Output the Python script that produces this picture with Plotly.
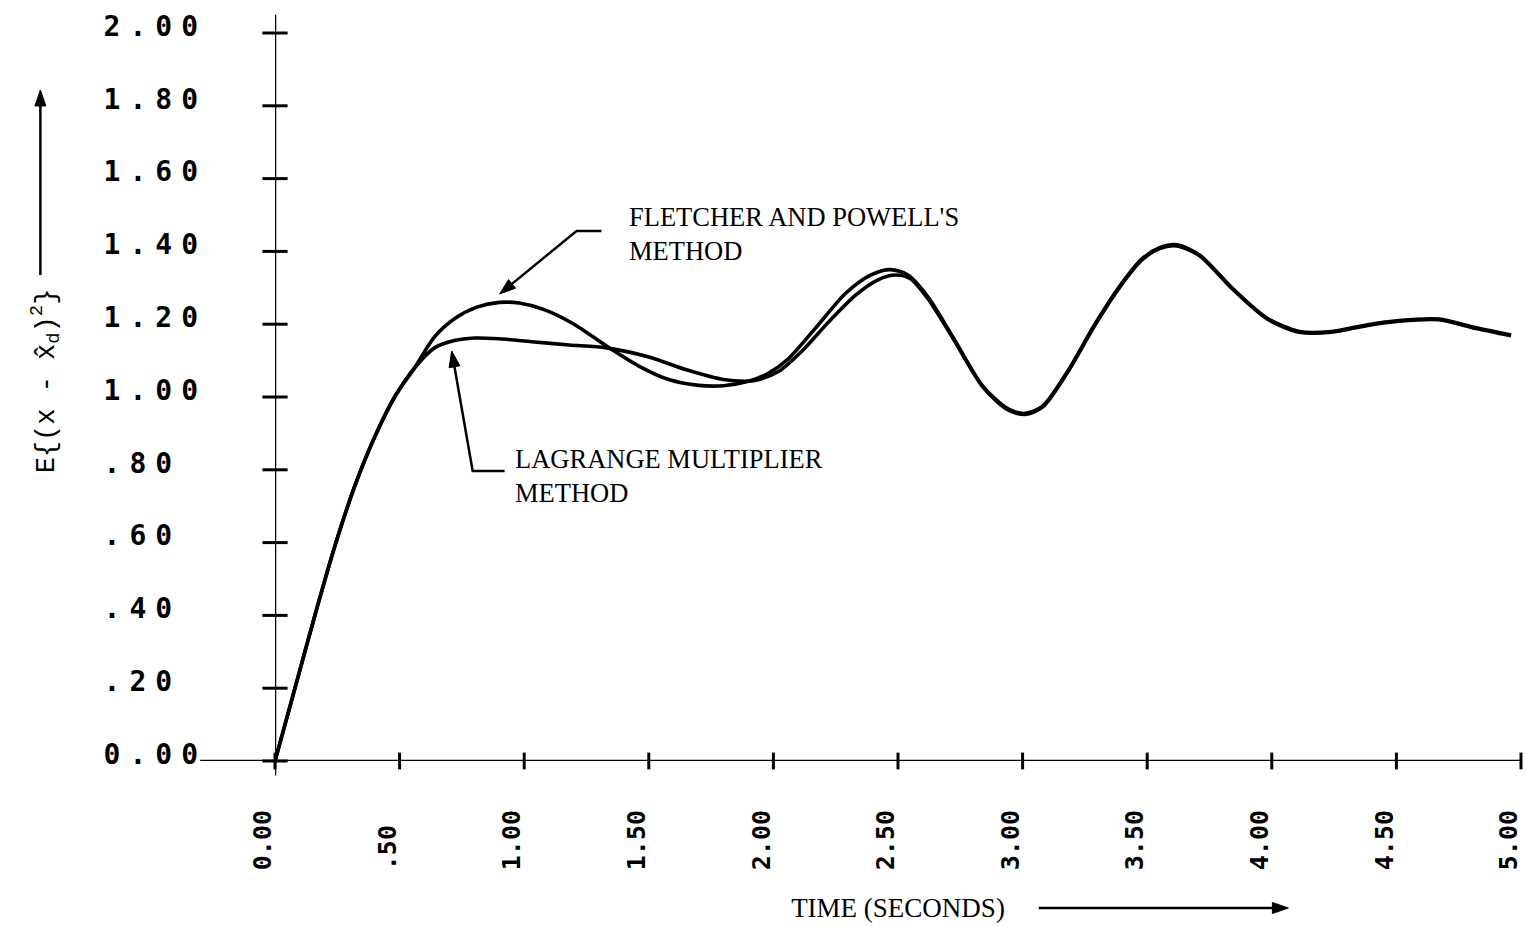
import math
import plotly.graph_objects as go

# ---- data ----
fp_t = [0.00, 0.08, 0.16, 0.24, 0.32, 0.40, 0.48, 0.56, 0.64, 0.72, 0.81, 0.90, 0.98, 1.08, 1.20, 1.33,
        1.46, 1.58, 1.70, 1.80, 1.90, 1.98, 2.06, 2.17, 2.29, 2.39, 2.47, 2.54, 2.62, 2.72, 2.84, 2.94,
        3.01, 3.08, 3.18, 3.29, 3.39, 3.48, 3.55, 3.62, 3.71, 3.84, 3.98, 4.11, 4.24, 4.38, 4.51, 4.67,
        4.82, 4.96]
fp_y = [0.00, 0.20, 0.40, 0.59, 0.755, 0.89, 1.00, 1.08, 1.165, 1.215, 1.247, 1.26, 1.258, 1.24, 1.20, 1.14,
        1.085, 1.048, 1.032, 1.031, 1.043, 1.065, 1.105, 1.19, 1.285, 1.335, 1.350, 1.335, 1.275, 1.165, 1.03, 0.968,
        0.955, 0.975, 1.07, 1.20, 1.305, 1.38, 1.41, 1.418, 1.39, 1.30, 1.217, 1.18, 1.18, 1.198, 1.21, 1.214,
        1.19, 1.17]

lm_t = [0.00, 0.08, 0.16, 0.24, 0.32, 0.40, 0.48, 0.56, 0.64, 0.72, 0.80, 0.90, 1.03, 1.18, 1.33, 1.50,
        1.65, 1.80, 1.92, 2.02, 2.12, 2.22, 2.33, 2.42, 2.49, 2.55, 2.62, 2.72, 2.84, 2.94,
        3.01, 3.08, 3.18, 3.29, 3.39, 3.48, 3.55, 3.62, 3.71, 3.84, 3.98, 4.11, 4.24, 4.38, 4.51, 4.67,
        4.82, 4.96]
lm_y = [0.00, 0.20, 0.40, 0.59, 0.755, 0.89, 1.00, 1.08, 1.135, 1.155, 1.162, 1.16, 1.152, 1.143, 1.135, 1.11,
        1.075, 1.048, 1.045, 1.07, 1.13, 1.205, 1.28, 1.322, 1.335, 1.325, 1.27, 1.162, 1.028, 0.965,
        0.952, 0.972, 1.067, 1.197, 1.302, 1.377, 1.408, 1.415, 1.388, 1.298, 1.215, 1.178, 1.178, 1.196, 1.208, 1.212,
        1.188, 1.168]

x_tick_vals = [0.0, 0.5, 1.0, 1.5, 2.0, 2.5, 3.0, 3.5, 4.0, 4.5, 5.0]
x_tick_text = ["0.00", ".50", "1.00", "1.50", "2.00", "2.50", "3.00", "3.50", "4.00", "4.50", "5.00"]
y_tick_vals = [0.0, 0.2, 0.4, 0.6, 0.8, 1.0, 1.2, 1.4, 1.6, 1.8, 2.0]
y_tick_text = ["0.00", ".20", ".40", ".60", ".80", "1.00", "1.20", "1.40", "1.60", "1.80", "2.00"]

fp_label = "FLETCHER AND POWELL'S<br>METHOD"
lm_label = "LAGRANGE MULTIPLIER<br>METHOD"
x_title = "TIME (SECONDS)"
y_title = "E{(x - x\u0302<sub>d</sub>)<sup>2</sup>}"

TYPE = "Liberation Serif"
TICKF = "DejaVu Sans Mono"


def spaced(s, gap, cell, n=4):
    """Monospace label with letter gap; short labels keep a left-aligned look by widening the last gap."""
    extra = gap + cell * (n - len(s))
    if gap == 0 and extra == 0:
        return s
    head = '<span style="letter-spacing:%gpx">%s</span>' % (gap, s[:-1]) if gap else s[:-1]
    return head + '<span style="letter-spacing:%gpx">%s</span>' % (extra, s[-1])


# page geometry (figure size and margins, used to place decorations)
W, H = 1526, 926
ML, MR, MT, MB = 275, 3, 33, 165
PW, PH = W - ML - MR, H - MT - MB


def paper(px, py):
    return (px - ML) / PW, (H - MB - py) / PH


def arrow_shapes(points, head_len=16, head_half=5.5, width=2.5):
    """Polyline through pixel points ending in a filled arrowhead, as paper-ref path shapes."""
    (x1, y1), (x2, y2) = points[-2], points[-1]
    d = math.hypot(x2 - x1, y2 - y1)
    ux, uy = (x2 - x1) / d, (y2 - y1) / d
    bx, by = x2 - ux * head_len, y2 - uy * head_len
    shaft = list(points[:-1]) + [(bx, by)]
    p = " ".join(("M" if i == 0 else "L") + " %.5f,%.5f" % paper(*pt) for i, pt in enumerate(shaft))
    tri = [(x2, y2), (bx - uy * head_half, by + ux * head_half), (bx + uy * head_half, by - ux * head_half)]
    t = "M %.5f,%.5f L %.5f,%.5f L %.5f,%.5f Z" % tuple(v for pt in tri for v in paper(*pt))
    return [dict(type="path", xref="paper", yref="paper", path=p, line=dict(color="black", width=width)),
            dict(type="path", xref="paper", yref="paper", path=t, fillcolor="black",
                 line=dict(color="black", width=1))]


fig = go.Figure()

fig.add_trace(go.Scatter(x=fp_t, y=fp_y, mode="lines",
                         line=dict(color="black", width=3.6, shape="spline", smoothing=0.8),
                         name="Fletcher and Powell's method", hoverinfo="skip", showlegend=False))
fig.add_trace(go.Scatter(x=lm_t, y=lm_y, mode="lines",
                         line=dict(color="black", width=3.6, shape="spline", smoothing=0.8),
                         name="Lagrange multiplier method", hoverinfo="skip", showlegend=False))

# cross tick marks on the axes
fig.add_trace(go.Scatter(x=[0] * len(y_tick_vals), y=y_tick_vals, mode="markers", cliponaxis=False,
                         marker=dict(symbol="line-ew", size=18, line=dict(color="black", width=3)),
                         hoverinfo="skip", showlegend=False))
fig.add_trace(go.Scatter(x=x_tick_vals, y=[0] * len(x_tick_vals), mode="markers", cliponaxis=False,
                         marker=dict(symbol="line-ns", size=12, line=dict(color="black", width=3)),
                         hoverinfo="skip", showlegend=False))

# axis lines
fig.add_shape(type="line", xref="x", yref="paper", x0=0, x1=0, y0=-0.02, y1=1.025,
              line=dict(color="black", width=2.5))
fig.add_shape(type="line", xref="paper", yref="y", x0=-0.06, x1=1.0, y0=0, y1=0,
              line=dict(color="black", width=2.5))

# pointers and axis-title arrows
for s in (arrow_shapes([(602, 231), (577, 231), (500, 294)]) +
          arrow_shapes([(505, 471), (473, 471), (452, 351)]) +
          arrow_shapes([(1040, 908), (1290, 908)]) +
          arrow_shapes([(40, 275), (40, 90)])):
    fig.add_shape(**s)

fig.add_annotation(x=1.411, y=1.448, xref="x", yref="y", text=fp_label, showarrow=False,
                   xanchor="left", yanchor="middle", align="left",
                   font=dict(family=TYPE, size=26.5, color="black"))
fig.add_annotation(x=0.954, y=0.783, xref="x", yref="y", text=lm_label, showarrow=False,
                   xanchor="left", yanchor="middle", align="left",
                   font=dict(family=TYPE, size=26.5, color="black"))

xt, yt = paper(45, 381)
fig.add_annotation(x=xt, y=yt, xref="paper", yref="paper", text=y_title, showarrow=False,
                   textangle=-90, xanchor="center", yanchor="middle",
                   font=dict(family="Liberation Mono", size=27, color="black"))

fig.update_layout(
    width=W, height=H,
    margin=dict(l=ML, r=MR, t=MT, b=MB, pad=0),
    paper_bgcolor="white", plot_bgcolor="white",
    showlegend=False,
    xaxis=dict(range=[0, 5.0], showgrid=False, zeroline=False, showline=False, ticks="",
               tickvals=x_tick_vals, ticktext=[spaced(s, 0, 15.05) for s in x_tick_text], tickangle=-90,
               tickfont=dict(family=TICKF, size=25, color="black", weight="bold"),
               ticklabelstandoff=43, ticklabelshift=-12, fixedrange=True,
               title=dict(text=x_title, standoff=28, font=dict(family=TYPE, size=27, color="black"))),
    yaxis=dict(range=[0, 2.0], showgrid=False, zeroline=False, showline=False, ticks="",
               tickvals=y_tick_vals,
               ticktext=[spaced(s, 9, 25.86) for s in y_tick_text],
               tickfont=dict(family=TICKF, size=28, color="black", weight="bold"),
               ticklabelstandoff=67, ticklabelshift=-7, fixedrange=True),
)

fig.write_html("out.html")
